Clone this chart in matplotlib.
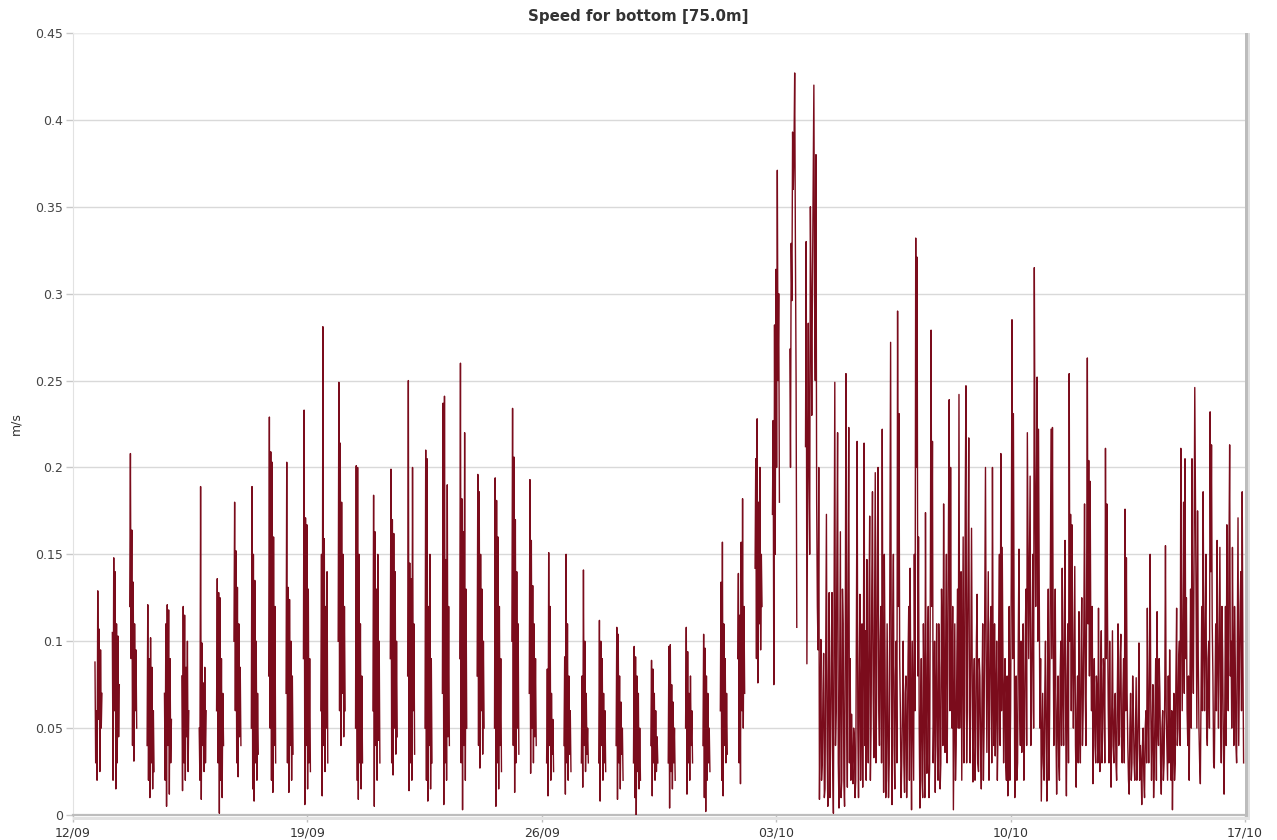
import matplotlib
matplotlib.use("Agg")
import matplotlib.pyplot as plt
import numpy as np
import pandas as pd
from matplotlib.patches import Rectangle


# 12/09 -> 03/10: one burst of 11 samples (30 min apart) per tide, gaps in between
burst_first = pd.Timestamp("2015-09-12 15:45")
burst_period = pd.Timedelta("12h27min")
burst_step = pd.Timedelta("30min")
samples_per_burst = 11
burst_speed = [
    0.088, 0.030, 0.060, 0.020, 0.129, 0.055, 0.107, 0.025, 0.095, 0.050, 0.070,
    0.105, 0.020, 0.148, 0.060, 0.140, 0.015, 0.110, 0.030, 0.103, 0.045, 0.075,
    0.120, 0.208, 0.090, 0.164, 0.040, 0.134, 0.031, 0.110, 0.060, 0.095, 0.050,
    0.040, 0.121, 0.020, 0.090, 0.010, 0.102, 0.030, 0.085, 0.015, 0.060, 0.025,
    0.070, 0.020, 0.110, 0.005, 0.121, 0.040, 0.118, 0.012, 0.090, 0.030, 0.055,
    0.080, 0.014, 0.120, 0.030, 0.115, 0.020, 0.085, 0.045, 0.100, 0.025, 0.060,
    0.050, 0.020, 0.189, 0.009, 0.099, 0.040, 0.076, 0.025, 0.085, 0.030, 0.060,
    0.060, 0.136, 0.030, 0.128, 0.001, 0.125, 0.020, 0.090, 0.010, 0.070, 0.040,
    0.100, 0.180, 0.060, 0.152, 0.030, 0.131, 0.022, 0.110, 0.045, 0.085, 0.040,
    0.050, 0.189, 0.015, 0.150, 0.008, 0.135, 0.030, 0.100, 0.020, 0.070, 0.035,
    0.080, 0.229, 0.050, 0.209, 0.020, 0.203, 0.013, 0.160, 0.040, 0.120, 0.030,
    0.070, 0.203, 0.030, 0.131, 0.013, 0.124, 0.040, 0.100, 0.020, 0.080, 0.035,
    0.090, 0.233, 0.006, 0.171, 0.040, 0.167, 0.015, 0.130, 0.030, 0.090, 0.025,
    0.060, 0.150, 0.011, 0.281, 0.040, 0.159, 0.025, 0.120, 0.050, 0.140, 0.030,
    0.100, 0.249, 0.060, 0.214, 0.040, 0.180, 0.070, 0.150, 0.045, 0.120, 0.060,
    0.050, 0.201, 0.020, 0.200, 0.009, 0.150, 0.030, 0.110, 0.015, 0.080, 0.030,
    0.060, 0.184, 0.005, 0.163, 0.040, 0.130, 0.020, 0.150, 0.043, 0.100, 0.030,
    0.090, 0.199, 0.030, 0.170, 0.023, 0.162, 0.050, 0.140, 0.035, 0.100, 0.045,
    0.080, 0.250, 0.014, 0.145, 0.030, 0.136, 0.020, 0.200, 0.060, 0.110, 0.035,
    0.050, 0.210, 0.020, 0.205, 0.008, 0.120, 0.040, 0.150, 0.015, 0.090, 0.030,
    0.070, 0.237, 0.006, 0.241, 0.030, 0.147, 0.020, 0.190, 0.045, 0.120, 0.040,
    0.090, 0.260, 0.030, 0.182, 0.003, 0.163, 0.040, 0.220, 0.020, 0.130, 0.050,
    0.080, 0.196, 0.040, 0.186, 0.027, 0.150, 0.060, 0.130, 0.035, 0.100, 0.050,
    0.050, 0.194, 0.005, 0.181, 0.030, 0.160, 0.015, 0.120, 0.040, 0.090, 0.025,
    0.100, 0.234, 0.040, 0.206, 0.013, 0.170, 0.030, 0.140, 0.050, 0.110, 0.035,
    0.070, 0.193, 0.024, 0.158, 0.050, 0.132, 0.030, 0.110, 0.045, 0.090, 0.040,
    0.030, 0.084, 0.011, 0.151, 0.040, 0.120, 0.020, 0.070, 0.035, 0.055, 0.025,
    0.040, 0.091, 0.012, 0.150, 0.030, 0.110, 0.020, 0.080, 0.035, 0.060, 0.025,
    0.030, 0.080, 0.016, 0.141, 0.040, 0.100, 0.025, 0.070, 0.035, 0.050, 0.030,
    0.030, 0.112, 0.008, 0.100, 0.040, 0.090, 0.020, 0.070, 0.030, 0.060, 0.025,
    0.040, 0.108, 0.009, 0.104, 0.030, 0.080, 0.015, 0.065, 0.035, 0.050, 0.020,
    0.030, 0.097, 0.010, 0.091, 0.000, 0.080, 0.025, 0.070, 0.015, 0.050, 0.020,
    0.040, 0.089, 0.011, 0.084, 0.030, 0.070, 0.020, 0.060, 0.025, 0.045, 0.030,
    0.030, 0.097, 0.004, 0.098, 0.025, 0.075, 0.015, 0.065, 0.030, 0.050, 0.020,
    0.050, 0.108, 0.012, 0.094, 0.030, 0.070, 0.020, 0.080, 0.040, 0.060, 0.030,
    0.040, 0.104, 0.010, 0.096, 0.002, 0.080, 0.020, 0.070, 0.030, 0.050, 0.025,
    0.060, 0.134, 0.020, 0.157, 0.011, 0.110, 0.040, 0.090, 0.030, 0.070, 0.035,
    0.090, 0.139, 0.030, 0.115, 0.018, 0.157, 0.060, 0.182, 0.050, 0.120, 0.070,
    0.142, 0.205, 0.090, 0.228, 0.076, 0.180, 0.110, 0.200, 0.095, 0.150, 0.120,
    0.173, 0.227, 0.075, 0.282, 0.150, 0.314, 0.200, 0.371, 0.250, 0.300, 0.180,
    0.268, 0.200, 0.329, 0.296, 0.393, 0.360, 0.383, 0.427, 0.330, 0.250, 0.108,
]

# 03/10 21:00 -> 16/10 23:00: continuous record, samples on the hour ...
hourly_start = pd.Timestamp("2015-10-03 21:00")
hourly_speed = [
    0.212, 0.087, 0.283, 0.150, 0.298, 0.307, 0.420, 0.250, 0.180, 0.095,
    0.009, 0.101, 0.030, 0.093, 0.015, 0.173, 0.005, 0.128, 0.040, 0.128,
    0.001, 0.249, 0.060, 0.220, 0.004, 0.163, 0.020, 0.110, 0.005, 0.254,
    0.016, 0.223, 0.090, 0.058, 0.018, 0.045, 0.020, 0.215, 0.010, 0.127,
    0.060, 0.016, 0.214, 0.106, 0.147, 0.030, 0.172, 0.050, 0.186, 0.033,
    0.197, 0.070, 0.200, 0.040, 0.120, 0.222, 0.013, 0.090, 0.020, 0.060,
    0.030, 0.272, 0.006, 0.150, 0.015, 0.100, 0.290, 0.231, 0.060, 0.031,
    0.100, 0.013, 0.080, 0.040, 0.120, 0.142, 0.003, 0.060, 0.150, 0.332,
    0.321, 0.160, 0.004, 0.090, 0.010, 0.070, 0.174, 0.024, 0.120, 0.030,
    0.279, 0.215, 0.060, 0.013, 0.110, 0.020, 0.085, 0.030, 0.100, 0.179,
    0.036, 0.150, 0.080, 0.239, 0.200, 0.050, 0.003, 0.110, 0.040, 0.130,
    0.242, 0.100, 0.020, 0.160, 0.060, 0.247, 0.080, 0.217, 0.030, 0.165,
    0.019, 0.090, 0.040, 0.127, 0.025, 0.080, 0.015, 0.110, 0.050, 0.200,
    0.036, 0.140, 0.060, 0.120, 0.200, 0.040, 0.034, 0.100, 0.050, 0.150,
    0.208, 0.154, 0.030, 0.090, 0.020, 0.011, 0.120, 0.060, 0.285, 0.231,
    0.010, 0.080, 0.030, 0.153, 0.040, 0.036, 0.110, 0.050, 0.130, 0.220,
    0.090, 0.195, 0.060, 0.150, 0.315, 0.120, 0.252, 0.222, 0.050, 0.008,
    0.070, 0.020, 0.100, 0.008, 0.130, 0.060, 0.222, 0.223, 0.040, 0.130,
    0.012, 0.080, 0.020, 0.100, 0.142, 0.040, 0.158, 0.011, 0.110, 0.254,
    0.173, 0.167, 0.050, 0.143, 0.016, 0.080, 0.117, 0.030, 0.125, 0.060,
    0.179, 0.040, 0.263, 0.204, 0.192, 0.060, 0.018, 0.090, 0.030, 0.070,
    0.119, 0.025, 0.106, 0.050, 0.080, 0.211, 0.179, 0.060, 0.100, 0.016,
    0.106, 0.030, 0.070, 0.020, 0.110, 0.045, 0.104, 0.030, 0.090, 0.176,
    0.148, 0.040, 0.012, 0.070, 0.030, 0.060, 0.020, 0.079, 0.035, 0.099,
    0.040, 0.006, 0.050, 0.010, 0.060, 0.119, 0.030, 0.150, 0.020, 0.075,
    0.030, 0.090, 0.117, 0.040, 0.070, 0.012, 0.060, 0.030, 0.155, 0.040,
    0.080, 0.095, 0.020, 0.003, 0.070, 0.030, 0.119, 0.050, 0.100, 0.211,
    0.060, 0.180, 0.205, 0.125, 0.040, 0.020, 0.130, 0.205, 0.070, 0.246,
    0.110, 0.175, 0.050, 0.018, 0.120, 0.186, 0.060, 0.150, 0.040, 0.100,
    0.232, 0.213, 0.080, 0.027, 0.110, 0.158, 0.050, 0.154, 0.030, 0.090,
    0.012, 0.120, 0.167, 0.060, 0.213, 0.100, 0.154, 0.040, 0.090, 0.030,
    0.171, 0.080, 0.140, 0.186, 0.030,
]
# ... and at half past the hour
halfhour_speed = [
    0.330, 0.180, 0.200, 0.350, 0.230, 0.360, 0.300, 0.380, 0.120, 0.200,
    0.060, 0.020, 0.070, 0.010, 0.090, 0.040, 0.080, 0.010, 0.090, 0.030,
    0.120, 0.040, 0.150, 0.030, 0.090, 0.010, 0.130, 0.020, 0.100, 0.060,
    0.140, 0.030, 0.020, 0.030, 0.050, 0.010, 0.110, 0.050, 0.080, 0.020,
    0.110, 0.090, 0.040, 0.020, 0.060, 0.120, 0.020, 0.130, 0.070, 0.110,
    0.030, 0.150, 0.060, 0.100, 0.030, 0.070, 0.150, 0.010, 0.110, 0.010,
    0.150, 0.080, 0.110, 0.040, 0.080, 0.030, 0.120, 0.090, 0.010, 0.060,
    0.030, 0.070, 0.010, 0.090, 0.020, 0.060, 0.100, 0.020, 0.060, 0.200,
    0.080, 0.050, 0.060, 0.020, 0.110, 0.010, 0.060, 0.090, 0.010, 0.140,
    0.120, 0.030, 0.100, 0.070, 0.040, 0.110, 0.015, 0.130, 0.040, 0.090,
    0.100, 0.030, 0.170, 0.060, 0.080, 0.120, 0.060, 0.020, 0.090, 0.050,
    0.050, 0.140, 0.090, 0.030, 0.180, 0.030, 0.140, 0.060, 0.100, 0.080,
    0.070, 0.020, 0.100, 0.030, 0.090, 0.040, 0.070, 0.020, 0.130, 0.090,
    0.090, 0.020, 0.110, 0.030, 0.080, 0.110, 0.070, 0.020, 0.110, 0.040,
    0.060, 0.090, 0.070, 0.030, 0.080, 0.060, 0.020, 0.140, 0.090, 0.120,
    0.050, 0.020, 0.100, 0.060, 0.100, 0.070, 0.020, 0.100, 0.040, 0.150,
    0.140, 0.040, 0.110, 0.050, 0.200, 0.180, 0.100, 0.130, 0.090, 0.040,
    0.030, 0.070, 0.040, 0.080, 0.020, 0.140, 0.090, 0.110, 0.090, 0.050,
    0.060, 0.030, 0.080, 0.040, 0.070, 0.110, 0.050, 0.080, 0.030, 0.100,
    0.060, 0.090, 0.100, 0.040, 0.060, 0.030, 0.050, 0.090, 0.040, 0.110,
    0.070, 0.130, 0.110, 0.080, 0.100, 0.120, 0.060, 0.040, 0.080, 0.030,
    0.040, 0.080, 0.030, 0.090, 0.030, 0.090, 0.110, 0.030, 0.050, 0.060,
    0.040, 0.060, 0.030, 0.070, 0.040, 0.090, 0.040, 0.070, 0.030, 0.060,
    0.070, 0.020, 0.050, 0.020, 0.080, 0.030, 0.050, 0.020, 0.060, 0.020,
    0.030, 0.040, 0.020, 0.050, 0.030, 0.060, 0.080, 0.060, 0.050, 0.010,
    0.060, 0.020, 0.050, 0.090, 0.030, 0.050, 0.020, 0.070, 0.060, 0.020,
    0.030, 0.050, 0.060, 0.040, 0.020, 0.080, 0.040, 0.090, 0.040, 0.110,
    0.110, 0.070, 0.090, 0.060, 0.080, 0.070, 0.050, 0.100, 0.150, 0.180,
    0.050, 0.090, 0.030, 0.070, 0.060, 0.100, 0.110, 0.050, 0.090, 0.050,
    0.140, 0.110, 0.030, 0.070, 0.060, 0.090, 0.100, 0.070, 0.120, 0.040,
    0.060, 0.040, 0.090, 0.150, 0.080, 0.050, 0.090, 0.120, 0.040, 0.100,
    0.040, 0.120, 0.060, 0.090,
]

x_ticks = ["2015-09-12", "2015-09-19", "2015-09-26", "2015-10-03", "2015-10-10", "2015-10-17"]
x_labels = ["12/09", "19/09", "26/09", "03/10", "10/10", "17/10"]
y_ticks = [0, 0.05, 0.1, 0.15, 0.2, 0.25, 0.3, 0.35, 0.4, 0.45]
y_labels = ["0", "0.05", "0.1", "0.15", "0.2", "0.25", "0.3", "0.35", "0.4", "0.45"]

# build one series, NaN between bursts so the line breaks
times = []
speeds = []
bursts = np.array(burst_speed).reshape(-1, samples_per_burst)
for i, row in enumerate(bursts):
    start = burst_first + i * burst_period
    for k, v in enumerate(row):
        times.append(start + k * burst_step)
        speeds.append(v)
    times.append(start + samples_per_burst * burst_step)
    speeds.append(np.nan)
for h, v in enumerate(hourly_speed):
    t = hourly_start + pd.Timedelta(hours=h)
    times.append(t)
    speeds.append(v)
    if h < len(halfhour_speed):
        times.append(t + pd.Timedelta("30min"))
        speeds.append(halfhour_speed[h])
times = pd.to_datetime(times)

W, H = 1277, 840
fig = plt.figure(figsize=(W / 100, H / 100), dpi=100)
ax = fig.add_axes([73 / W, 25 / H, (1245 - 73) / W, (815 - 33) / H])

ax.plot(times, speeds, color="#7b0c1c", lw=1.0, zorder=3)

ax.set_xlim(pd.Timestamp(x_ticks[0]), pd.Timestamp(x_ticks[-1]))
ax.set_ylim(0, 0.45)
ax.set_xticks(pd.to_datetime(x_ticks))
ax.set_xticklabels(x_labels)
ax.set_yticks(y_ticks)
ax.set_yticklabels(y_labels)

ax.grid(axis="y", color="#d9d9d9", lw=1, zorder=0)
ax.tick_params(axis="y", length=5, width=1, color="#c8c8c8", pad=2,
               labelsize=9, labelcolor="#444444")
ax.tick_params(axis="x", length=5, width=1, color="#c0c0c0", pad=3,
               labelsize=9, labelcolor="#333333")
for side in ["top", "right"]:
    ax.spines[side].set_visible(False)
ax.spines["left"].set_color("#e2e2e2")
ax.spines["bottom"].set_color("#bdbdbd")
ax.spines["bottom"].set_linewidth(1.6)

fig.text(16 / W, 1 - 424 / H, "m/s", rotation=90, ha="center", va="center",
         fontsize=9, color="#333333")
fig.text(0.5, 1 - 17 / H, "Speed for bottom [75.0m]", ha="center", va="center",
         fontsize=10.8, fontweight="bold", color="#333333")

# drop shadow on right and bottom edge of the plot box
fig.add_artist(Rectangle((1245 / W, 20 / H), 2.5 / W, (820 - 33) / H,
                         transform=fig.transFigure, color="#bcbcbc", lw=0))
fig.add_artist(Rectangle((1247.5 / W, 20 / H), 2.5 / W, (820 - 33) / H,
                         transform=fig.transFigure, color="#e0e0e0", lw=0))
fig.add_artist(Rectangle((73 / W, 20 / H), (1250 - 73) / W, 3 / H,
                         transform=fig.transFigure, color="#e2e2e2", lw=0))
fig.add_artist(Rectangle((73 / W, (840 - 33.5) / H), (1245 - 73) / W, 1 / H,
                         transform=fig.transFigure, color="#ececec", lw=0))

fig.savefig("out.png", dpi=100)
